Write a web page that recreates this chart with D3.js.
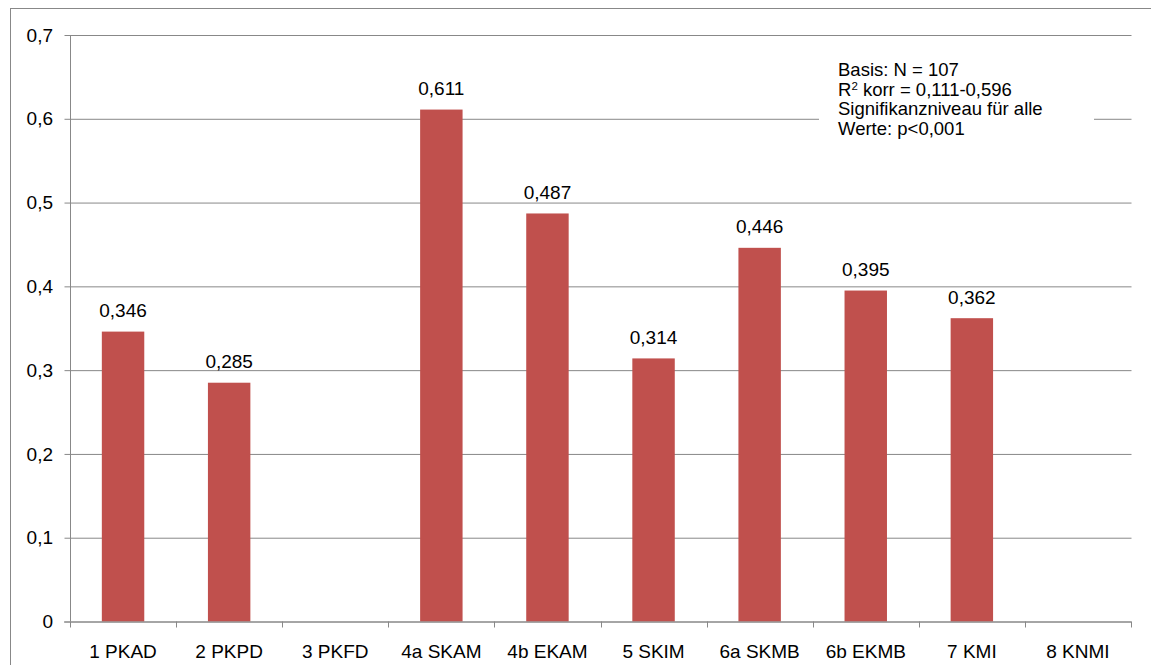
<!DOCTYPE html>
<html>
<head>
<meta charset="utf-8">
<script src="https://cdn.jsdelivr.net/npm/d3@7"></script>
<style>
  html, body { margin: 0; padding: 0; background: #fff; }
  svg { display: block; font-family: "Liberation Sans", Arial, sans-serif; }
</style>
</head>
<body>
<svg id="chart" width="1151" height="665"></svg>
<script>
// Kategorien und Werte
const categories = ["1 PKAD", "2 PKPD", "3 PKFD", "4a SKAM", "4b EKAM", "5 SKIM", "6a SKMB", "6b EKMB", "7 KMI", "8 KNMI"];
const values = [0.346, 0.285, null, 0.611, 0.487, 0.314, 0.446, 0.395, 0.362, null];
const yTicks = [0, 0.1, 0.2, 0.3, 0.4, 0.5, 0.6, 0.7];
const noteLines = ["Basis: N = 107", "R² korr = 0,111-0,596", "Signifikanzniveau für alle", "Werte: p<0,001"];

const svg = d3.select("#chart");
const W = 1151, H = 665;
const m = { left: 70, right: 20, top: 35, bottom: 43.5 };
const fs = "19px";
const fmt = v => d3.format(".3f")(v).replace(".", ",");
const fmtTick = v => v === 0 ? "0" : d3.format(".1f")(v).replace(".", ",");

// Äußerer Rahmen
svg.append("rect")
  .attr("x", 10.5).attr("y", 8.5)
  .attr("width", W).attr("height", H)
  .attr("fill", "none").attr("stroke", "#888").attr("stroke-width", 1);

const x = d3.scaleBand().domain(categories)
  .range([m.left, W - m.right]).paddingInner(0.6).paddingOuter(0.3);
const y = d3.scaleLinear().domain([0, 0.7]).range([H - m.bottom, m.top]);

const gridColor = "#888";

// Y-Achse mit Gitterlinien
const yAxis = svg.append("g")
  .attr("transform", `translate(${m.left},0)`)
  .call(d3.axisLeft(y).tickValues(yTicks).tickFormat(fmtTick).tickSize(6).tickPadding(11))
  .call(g => g.select(".domain").attr("stroke", gridColor).attr("d", `M0.5,${y(0.7)}V${y(0)}`));
yAxis.selectAll(".tick line").attr("stroke", gridColor).attr("x1", -6).attr("x2", W - m.right - m.left);
yAxis.selectAll(".tick line").attr("transform", "translate(0.5,0)");
yAxis.selectAll("text").attr("fill", "#000").style("font-size", fs);

// Notizfeld (überdeckt die Gitterlinie)
const noteX = 819, noteW = 275, noteY = 58;
svg.append("rect").attr("x", noteX).attr("y", noteY).attr("width", noteW).attr("height", 82).attr("fill", "#fff");
const note = svg.append("text").attr("x", 838).attr("y", 76).attr("fill", "#000").style("font-size", "18.5px");
noteLines.forEach((t, i) => {
  const tspan = note.append("tspan").attr("x", 838).attr("dy", i === 0 ? 0 : 19.6);
  if (t.startsWith("R²")) {
    tspan.text("R");
    note.append("tspan").attr("dy", -6).style("font-size", "11.5px").text("2");
    note.append("tspan").attr("dy", 6).text(t.slice(2));
  } else {
    tspan.text(t);
  }
});

// Balken
const data = categories.map((c, i) => ({ c, v: values[i] })).filter(d => d.v != null);
svg.append("g").selectAll("rect").data(data).join("rect")
  .attr("x", d => x(d.c)).attr("width", x.bandwidth())
  .attr("y", d => y(d.v)).attr("height", d => y(0) - y(d.v))
  .attr("fill", "#C0504D");

// Wertbeschriftungen
svg.append("g").selectAll("text").data(data).join("text")
  .attr("x", d => x(d.c) + x.bandwidth() / 2)
  .attr("y", d => y(d.v) - 14.5)
  .attr("text-anchor", "middle").attr("fill", "#000").style("font-size", fs)
  .text(d => fmt(d.v));

// X-Achse
const xAxis = svg.append("g")
  .attr("transform", `translate(0,${y(0)})`)
  .call(d3.axisBottom(x).tickSize(0).tickPadding(23))
  .call(g => g.select(".domain").attr("stroke", gridColor).attr("d", `M${m.left - 6},0.5H${W - m.right}`));
xAxis.selectAll("text").attr("fill", "#000").style("font-size", fs);
// Trennstriche zwischen den Kategorien
const bounds = d3.range(categories.length + 1).map(i => m.left + i * (W - m.right - m.left) / categories.length);
xAxis.append("g").selectAll("line").data(bounds).join("line")
  .attr("x1", d => Math.round(d) + 0.5).attr("x2", d => Math.round(d) + 0.5)
  .attr("y1", 0).attr("y2", 6).attr("stroke", gridColor);
</script>
</body>
</html>
